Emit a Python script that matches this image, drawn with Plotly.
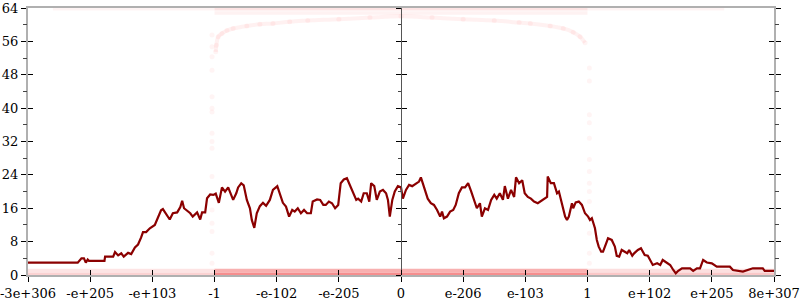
import plotly.graph_objects as go

# ---------------- data ----------------
tick_pos = [-6, -5, -4, -3, -2, -1, 0, 1, 2, 3, 4, 5, 6]
tick_text = ["-3e+306", "-e+205", "-e+103", "-1", "-e-102", "-e-205", "0",
             "e-206", "e-103", "1", "e+102", "e+205", "8e+307"]

line_x = [-6.00, -5.20, -5.14, -5.10, -5.07, -5.04, -5.02, -5.00, -4.77, -4.76,
          -4.63, -4.60, -4.55, -4.50, -4.46, -4.39, -4.34, -4.28, -4.23, -4.18,
          -4.15, -4.10, -4.04, -3.96, -3.91, -3.86, -3.83, -3.76, -3.72, -3.67,
          -3.60, -3.55, -3.52, -3.49, -3.39, -3.35, -3.28, -3.23, -3.20, -3.15,
          -3.12, -3.07, -3.02, -2.98, -2.93, -2.88, -2.83, -2.78, -2.75, -2.70,
          -2.65, -2.62, -2.57, -2.53, -2.48, -2.43, -2.40, -2.36, -2.32, -2.27,
          -2.22, -2.17, -2.11, -2.06, -1.99, -1.95, -1.90, -1.85, -1.80, -1.75,
          -1.71, -1.66, -1.61, -1.56, -1.51, -1.45, -1.42, -1.35, -1.30, -1.25,
          -1.21, -1.16, -1.11, -1.06, -1.01, -0.97, -0.92, -0.87, -0.82, -0.77,
          -0.72, -0.69, -0.64, -0.60, -0.55, -0.51, -0.48, -0.43, -0.39, -0.34,
          -0.29, -0.24, -0.21, -0.18, -0.14, -0.10, -0.05, 0.00, 0.03, 0.08,
          0.13, 0.18, 0.24, 0.29, 0.32, 0.35, 0.39, 0.43, 0.48, 0.53,
          0.58, 0.63, 0.66, 0.69, 0.74, 0.79, 0.84, 0.88, 0.93, 0.98,
          1.03, 1.08, 1.13, 1.17, 1.22, 1.27, 1.30, 1.35, 1.40, 1.45,
          1.50, 1.54, 1.59, 1.64, 1.67, 1.72, 1.77, 1.82, 1.85, 1.90,
          1.95, 1.99, 2.04, 2.09, 2.14, 2.20, 2.28, 2.35, 2.36, 2.41,
          2.46, 2.51, 2.54, 2.59, 2.64, 2.67, 2.70, 2.75, 2.77, 2.81,
          2.86, 2.91, 2.96, 3.01, 3.04, 3.07, 3.12, 3.15, 3.18, 3.22,
          3.25, 3.30, 3.33, 3.39, 3.44, 3.47, 3.51, 3.55, 3.59, 3.64,
          3.67, 3.72, 3.75, 3.81, 3.86, 3.92, 3.97, 4.02, 4.05, 4.12,
          4.17, 4.21, 4.28, 4.33, 4.38, 4.42, 4.46, 4.52, 4.65, 4.70,
          4.76, 4.81, 4.86, 4.92, 5.00, 5.08, 5.29, 5.34, 5.50, 5.58,
          5.66, 5.82, 5.85, 6.00]
line_y = [2.95, 2.95, 4.0, 4.0, 2.95, 3.7, 3.4, 3.4, 3.4, 4.4,
          4.4, 5.5, 4.7, 5.2, 4.4, 5.3, 5.0, 6.6, 7.3, 9.0,
          10.3, 10.3, 11.2, 12.0, 14.0, 15.5, 15.8, 14.3, 13.3, 14.8,
          15.0, 16.3, 17.8, 16.0, 14.8, 14.0, 15.0, 13.3, 15.0, 15.0,
          18.4, 19.3, 19.2, 19.5, 17.3, 21.0, 20.0, 21.0, 20.0, 18.0,
          19.6, 21.0, 22.0, 21.5, 18.0, 16.0, 13.2, 11.3, 14.8, 16.5,
          17.3, 16.6, 18.0, 20.4, 21.3, 19.6, 17.3, 16.4, 14.0, 15.6,
          15.2, 16.0, 14.8, 15.6, 14.8, 14.8, 17.6, 18.1, 18.0, 16.8,
          16.8, 17.6, 17.2, 16.0, 16.8, 22.0, 22.9, 23.2, 21.6, 19.6,
          18.0, 18.3, 17.6, 19.6, 19.6, 17.6, 22.0, 21.3, 18.0, 20.0,
          20.4, 19.6, 18.0, 14.0, 18.0, 20.0, 21.3, 21.0, 18.3, 20.4,
          21.6, 21.3, 22.0, 22.4, 23.4, 22.0, 19.6, 18.3, 17.2, 16.8,
          15.6, 14.0, 15.2, 13.6, 14.0, 15.2, 15.6, 16.8, 19.6, 21.0,
          21.0, 22.0, 20.0, 18.0, 16.0, 17.2, 14.0, 16.0, 15.6, 18.0,
          19.2, 18.3, 19.6, 18.0, 21.3, 18.3, 20.4, 18.7, 23.4, 22.0,
          22.7, 19.6, 18.7, 18.3, 17.6, 17.2, 18.0, 18.7, 23.6, 22.0,
          22.0, 19.6, 20.0, 17.2, 14.0, 13.2, 14.0, 17.2, 16.0, 17.4,
          17.6, 16.8, 14.8, 14.0, 13.2, 13.6, 11.2, 8.4, 6.8, 5.6,
          5.6, 7.6, 8.8, 8.4, 6.8, 4.6, 4.4, 6.0, 5.6, 5.2,
          6.0, 4.6, 5.2, 6.0, 6.4, 4.8, 4.6, 3.2, 2.4, 2.8,
          2.4, 3.6, 2.8, 2.4, 1.2, 0.4, 1.0, 1.6, 1.6, 1.0,
          1.6, 1.6, 3.6, 3.0, 2.8, 2.0, 2.0, 1.2, 0.8, 1.2,
          1.6, 1.6, 1.0, 1.0]

# faint sample cloud
arc_x = [-2.98, -2.97, -2.94, -2.88, -2.80, -2.70, -2.48, -2.27, -2.06, -1.79,
         -1.50, -1.00, -0.50, 0.00, 0.50, 1.00, 1.50, 1.90, 2.08, 2.40,
         2.61, 2.77, 2.88, 2.96]
arc_y = [53.5, 55.1, 57.1, 57.9, 58.6, 59.1, 59.7, 60.1, 60.3, 60.7,
         61.0, 61.3, 61.7, 62.0, 61.7, 61.3, 61.0, 60.5, 60.3, 59.7,
         59.1, 58.2, 57.1, 55.7]

left_col_x = -3.04
left_col_y = [57.5, 54.7, 52.3, 49.1, 42.7, 40.0, 39.1, 34.0, 32.0, 30.4,
              23.6, 15.6, 12.4, 10.4, 5.2, 2.8]
right_col_x = 3.03
right_col_y = [49.6, 46.5, 38.4, 36.5, 32.8, 27.7, 24.8, 22.0, 20.0, 17.6,
               10.0, 5.2, 2.8]

# horizontal sample bands: x start, x end, y level, opacity
band_x0 = [-5.6, -3.0, 3.0, -3.0, -6.0, -3.0, 3.0, -6.0, -3.0, 3.0]
band_x1 = [-3.0, 3.0, 5.2, 3.0, -3.0, 3.0, 6.0, -3.0, 3.0, 6.0]
band_y = [63.8, 63.8, 63.8, 62.8, 0.2, 0.2, 0.2, 1.1, 1.1, 1.1]
band_a = [0.05, 0.12, 0.05, 0.06, 0.20, 0.50, 0.25, 0.12, 0.35, 0.14]

# ---------------- figure ----------------
FONT = "'DejaVu Serif', serif"
fig = go.Figure()

for x0, x1, y, a in zip(band_x0, band_x1, band_y, band_a):
    fig.add_trace(go.Scatter(x=[x0, x1], y=[y, y], mode="lines",
                             line=dict(color=f"rgba(235,30,30,{a})", width=3.5),
                             hoverinfo="skip", showlegend=False))

fig.add_trace(go.Scatter(x=arc_x, y=arc_y, mode="lines+markers",
                         line=dict(color="rgba(255,60,60,0.07)", width=4, shape="spline"),
                         marker=dict(color="rgba(255,60,60,0.06)", size=5),
                         hoverinfo="skip", showlegend=False))
fig.add_trace(go.Scatter(x=[left_col_x] * len(left_col_y), y=left_col_y, mode="markers",
                         marker=dict(color="rgba(255,60,60,0.06)", size=5),
                         hoverinfo="skip", showlegend=False))
fig.add_trace(go.Scatter(x=[right_col_x] * len(right_col_y), y=right_col_y, mode="markers",
                         marker=dict(color="rgba(255,60,60,0.06)", size=5),
                         hoverinfo="skip", showlegend=False))

fig.add_trace(go.Scatter(x=line_x, y=line_y, mode="lines",
                         line=dict(color="#8b0000", width=2.2),
                         hoverinfo="skip", showlegend=False))

# dummy traces so overlay axes are rendered
fig.add_trace(go.Scatter(x=[None], y=[None], xaxis="x2", yaxis="y2", showlegend=False))
fig.add_trace(go.Scatter(x=[None], y=[None], xaxis="x", yaxis="y3", showlegend=False))
fig.add_trace(go.Scatter(x=[None], y=[None], xaxis="x", yaxis="y4", showlegend=False))

yticks = dict(range=[0, 64], tickvals=[0, 8, 16, 24, 32, 40, 48, 56, 64],
              ticklen=5, tickcolor="black", tickwidth=1, showgrid=False, zeroline=False,
              automargin=False,
              minor=dict(tickvals=[4, 12, 20, 28, 36, 44, 52, 60], ticklen=3,
                         tickcolor="#444", tickwidth=1, showgrid=False))

fig.update_layout(
    width=800, height=300,
    margin=dict(l=28, r=26, t=8, b=25),
    paper_bgcolor="white", plot_bgcolor="white",
    font=dict(family=FONT, size=13, color="black"),
    xaxis=dict(range=[-6, 6], tickvals=tick_pos, ticktext=tick_text,
               showline=True, linecolor="#b0b0b0", linewidth=2, mirror=True,
               ticks="outside", ticklen=5, tickcolor="black", tickwidth=1,
               showgrid=False, zeroline=False, automargin=False,
               ticklabeloverflow="allow",
               tickfont=dict(family=FONT, size=13, color="black")),
    xaxis2=dict(range=[-6, 6], tickvals=tick_pos, overlaying="x", anchor="y",
                ticks="inside", ticklen=5, tickcolor="black", tickwidth=1, automargin=False,
                showticklabels=False, showgrid=False, zeroline=False, showline=False),
    yaxis=dict(**yticks, showline=True, linecolor="#b0b0b0", linewidth=2, mirror="allticks",
               ticks="outside", ticklabeloverflow="allow",
               tickfont=dict(family=FONT, size=13, color="black")),
    yaxis2=dict(**yticks, overlaying="y", anchor="x2", ticks="inside", mirror="allticks",
                showline=False, showticklabels=False),
    yaxis3=dict(**yticks, overlaying="y", anchor="free", position=0.5, ticks="outside",
                showline=True, linecolor="#555", linewidth=1, showticklabels=False),
    yaxis4=dict(**yticks, overlaying="y", anchor="free", position=0.5, ticks="inside",
                showline=False, showticklabels=False),
)

fig.write_html("out.html")
